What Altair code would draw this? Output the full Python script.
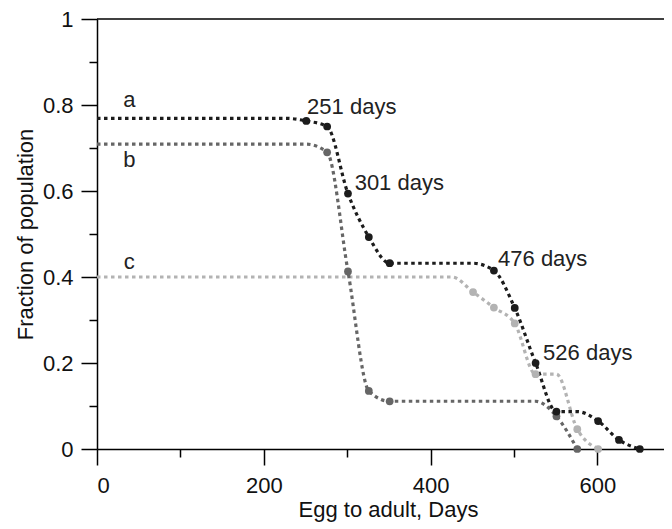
import altair as alt
import pandas as pd

# ---- data ----
series_names = ["a", "b", "c"]

a_days = [0, 226, 251, 276, 301, 326, 351, 451, 476, 501, 526, 551, 576, 601, 626, 651]
a_frac = [0.769, 0.769, 0.763, 0.750, 0.594, 0.493, 0.432, 0.432, 0.415, 0.328, 0.200, 0.087, 0.087, 0.065, 0.021, 0.0]

b_days = [0, 251, 276, 301, 326, 351, 526, 551, 576]
b_frac = [0.709, 0.709, 0.690, 0.413, 0.135, 0.111, 0.111, 0.076, 0.0]

c_days = [0, 426, 451, 476, 501, 526, 551, 576, 601]
c_frac = [0.400, 0.400, 0.365, 0.329, 0.292, 0.174, 0.174, 0.046, 0.0]

series_labels = ["a", "b", "c"]
series_label_x = [38.7, 38.7, 38.7]
series_label_y = [0.796, 0.656, 0.418]

annot_text = ["251 days", "301 days", "476 days", "526 days"]
annot_x = [252, 309, 481, 535]
annot_y = [0.778, 0.602, 0.426, 0.208]

x_ticks = [0, 100, 200, 300, 400, 500, 600]
y_ticks = [0, 0.1, 0.2, 0.3, 0.4, 0.5, 0.6, 0.7, 0.8, 0.9, 1.0]

colors = ["#1c1c1c", "#666666", "#b3b3b3"]

# ---- build tables ----
rows = []
for name, days, frac in [("c", c_days, c_frac), ("b", b_days, b_frac), ("a", a_days, a_frac)]:
    prev = None
    for i, (d, f) in enumerate(zip(days, frac)):
        rows.append({"series": name, "day": d, "frac": f, "order": i,
                     "dot": prev is not None and f != prev})
        prev = f
df = pd.DataFrame(rows)
dots = df[df["dot"]]

labels_df = pd.DataFrame({"t": series_labels, "x": series_label_x, "y": series_label_y})
annot_df = pd.DataFrame({"t": annot_text, "x": annot_x, "y": annot_y})

FONT = "Liberation Sans"
FS = 22

x_scale = alt.Scale(domain=[0, 680], nice=False, zero=False)
y_scale = alt.Scale(domain=[0, 1], nice=False)
color_scale = alt.Scale(domain=series_names, range=colors)

x_axis = alt.Axis(
    values=x_ticks,
    title="Egg to adult, Days",
    labelExpr="datum.value % 200 == 0 ? format(datum.value, 'd') : ''",
    tickSize={"condition": {"test": "datum.value % 200 == 0", "value": 16}, "value": 8},
    labelPadding=10,
    titlePadding=3,
    titleX=291,
    grid=False,
)
y_axis = alt.Axis(
    values=y_ticks,
    title="Fraction of population",
    labelExpr="round(datum.value*10) % 2 == 0 ? format(datum.value, '~g') : ''",
    tickSize={"condition": {"test": "round(datum.value*10) % 2 == 0", "value": 16}, "value": 8},
    labelPadding=8,
    titlePadding=5,
    grid=False,
)

lines = alt.Chart(df).mark_line(
    interpolate="monotone", strokeDash=[3.5, 3.5], strokeWidth=3.2, clip=True
).encode(
    x=alt.X("day:Q", scale=x_scale, axis=x_axis),
    y=alt.Y("frac:Q", scale=y_scale, axis=y_axis),
    color=alt.Color("series:N", scale=color_scale, legend=None),
    detail="series:N",
    order="order:Q",
)

points = alt.Chart(dots).mark_circle(size=60, opacity=1).encode(
    x=alt.X("day:Q", scale=x_scale),
    y=alt.Y("frac:Q", scale=y_scale),
    color=alt.Color("series:N", scale=color_scale, legend=None),
)

top_border = alt.Chart(alt.Data(values=[{}])).mark_rule(color="black", strokeWidth=1.5).encode(
    y=alt.datum(1, scale=y_scale)
)

series_text = alt.Chart(labels_df).mark_text(
    font=FONT, fontSize=FS, color="#222222", align="center", baseline="alphabetic"
).encode(
    x=alt.X("x:Q", scale=x_scale),
    y=alt.Y("y:Q", scale=y_scale),
    text="t:N",
)

annot = alt.Chart(annot_df).mark_text(
    font=FONT, fontSize=FS, color="#222222", align="left", baseline="alphabetic"
).encode(
    x=alt.X("x:Q", scale=x_scale),
    y=alt.Y("y:Q", scale=y_scale),
    text="t:N",
)

chart = alt.layer(top_border, lines, points, series_text, annot).properties(
    width=567,
    height=430,
    autosize=alt.AutoSizeParams(type="none"),
    padding={"left": 89, "top": 11, "right": 0, "bottom": 74},
).configure_view(stroke=None).configure_axis(
    domainColor="black",
    domainWidth=1.5,
    tickColor="black",
    tickWidth=1.5,
    labelFont=FONT,
    labelFontSize=FS,
    labelColor="#111111",
    titleFont=FONT,
    titleFontSize=FS,
    titleFontWeight="normal",
    titleColor="#111111",
)

chart.save("out.html", embed_options={"renderer": "svg", "actions": False})
